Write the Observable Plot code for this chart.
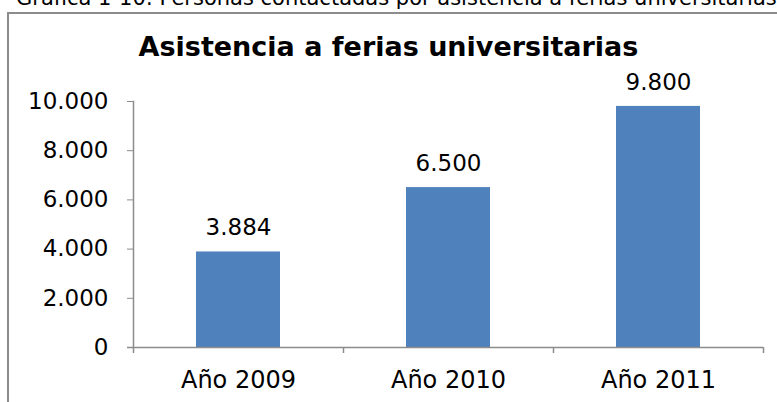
<!DOCTYPE html>
<html>
<head>
<meta charset="utf-8">
<script src="https://cdn.jsdelivr.net/npm/d3@7"></script>
<script src="https://cdn.jsdelivr.net/npm/@observablehq/plot@0.6"></script>
<style>
  html, body { margin: 0; padding: 0; background: #fff; }
  #wrap { position: relative; width: 777px; height: 402px; overflow: hidden; font-family: "DejaVu Sans", Verdana, sans-serif; }
  #caption { position: absolute; left: 16px; top: -14px; font-size: 21px; line-height: 24px; white-space: nowrap; color: #000; }
  #frame { position: absolute; left: 7px; top: 12px; width: 800px; height: 420px; border-left: 2px solid #8c8c8c; border-top: 2px solid #8c8c8c; }
  #title { position: absolute; left: 0; width: 777px; top: 31px; text-align: center; font-size: 27px; font-weight: bold; color: #000; }
  #chart { position: absolute; left: 0; top: 0; }
</style>
</head>
<body>
<div id="wrap">
  <div id="caption">Gráfica 1-10: Personas contactadas por asistencia a ferias universitarias</div>
  <div id="frame"></div>
  <div id="title">Asistencia a ferias universitarias</div>
  <div id="chart"></div>
</div>
<script>
const categories = ["Año 2009", "Año 2010", "Año 2011"];
const values = [3884, 6500, 9800];
const yTicks = [0, 2000, 4000, 6000, 8000, 10000];

const data = categories.map((c, i) => ({ cat: c, value: values[i] }));
const locale = d3.formatLocale({ decimal: ",", thousands: ".", grouping: [3], currency: ["", ""] });
const fmt = locale.format(",");

const W = 777, H = 402, ML = 133, MR = 14, MT = 101, MB = 55;
const step = (W - ML - MR) / categories.length;
const gray = "#8c8c8c";

const chart = Plot.plot({
  width: W,
  height: H,
  marginLeft: ML,
  marginRight: MR,
  marginTop: MT,
  marginBottom: MB,
  style: { fontFamily: "'DejaVu Sans', Verdana, sans-serif", background: "transparent", overflow: "visible" },
  x: { domain: categories, paddingInner: 0.6, paddingOuter: 0.3 },
  y: { domain: [0, 10000] },
  marks: [
    Plot.barY(data, { x: "cat", y: "value", fill: "#4F81BD" }),
    Plot.frame({ anchor: "left", stroke: gray, strokeWidth: 1.5 }),
    Plot.ruleY([0], { stroke: gray, strokeWidth: 1.5, insetLeft: -6 }),
    Plot.ruleX(categories, { x: d => d, dx: -step / 2, y1: 0, y2: 0, insetBottom: -6, stroke: gray, strokeWidth: 1.5 }),
    Plot.ruleX(categories.slice(-1), { x: d => d, dx: step / 2, y1: 0, y2: 0, insetBottom: -6, stroke: gray, strokeWidth: 1.5 }),
    Plot.axisY({ ticks: yTicks, tickFormat: fmt, tickSize: 6, tickPadding: 19, stroke: gray, fontSize: 23, color: "#000", label: null }),
    Plot.axisX({ tickSize: 0, tickPadding: 23, fontSize: 24, label: null, color: "#000" }),
    Plot.text(data, { x: "cat", y: "value", text: d => fmt(d.value), dy: -24, fontSize: 23, fill: "#000" })
  ]
});
document.getElementById("chart").appendChild(chart);
</script>
</body>
</html>
